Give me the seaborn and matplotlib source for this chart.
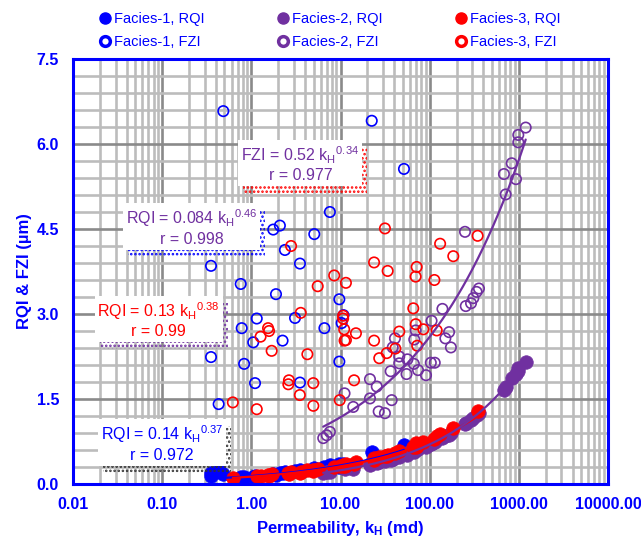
import numpy as np
import pandas as pd
import matplotlib
matplotlib.use("Agg")
import matplotlib.pyplot as plt
from matplotlib.patches import Rectangle
from matplotlib.lines import Line2D
from matplotlib.ticker import MultipleLocator, LogLocator, FixedLocator, FixedFormatter, NullFormatter
import seaborn as sns

# ---------------- data ----------------
k_f1 = [0.485, 22.4, 51.5, 7.6, 2.09, 1.76, 5.08, 2.38, 3.51, 0.353, 0.76, 1.89, 9.7, 1.15,
        3.09, 10.8, 0.78, 6.6, 10.3, 1.05, 2.24, 0.353, 0.83, 9.7, 1.10, 3.51, 0.43]
fzi_f1 = [6.58, 6.41, 5.56, 4.80, 4.56, 4.49, 4.41, 4.13, 3.89, 3.85, 3.53, 3.35, 3.26, 2.92,
          2.93, 2.98, 2.75, 2.75, 2.84, 2.50, 2.53, 2.24, 2.12, 2.16, 1.78, 1.79, 1.41]
rqi_f1 = [0.18, 0.56, 0.69, 0.33, 0.20, 0.18, 0.29, 0.22, 0.25, 0.15, 0.12, 0.16, 0.35, 0.13,
          0.23, 0.36, 0.10, 0.30, 0.33, 0.12, 0.19, 0.20, 0.13, 0.30, 0.15, 0.21, 0.24]

k_f2 = [6.4, 7.0, 7.6, 11.1, 13.9, 21.4, 21.4, 25.5, 26.8, 31.5, 36.5, 37.5, 38.5, 40.8, 45.6,
        45.6, 55, 56.3, 66.5, 67.2, 69.7, 74, 91, 103, 105, 114, 139, 150, 165, 173, 249, 254,
        291, 309, 336, 357, 681, 712, 832, 929, 986, 986, 1194]
fzi_f2 = [0.81, 0.86, 0.92, 1.60, 1.36, 1.85, 1.51, 1.72, 1.28, 1.25, 1.99, 1.48, 2.41, 2.57, 2.25,
          2.13, 1.94, 2.20, 2.12, 2.55, 2.71, 2.01, 1.92, 2.14, 2.88, 2.14, 3.09, 2.57, 2.68, 2.41,
          4.45, 3.14, 3.19, 3.28, 3.39, 3.45, 5.47, 5.11, 5.66, 5.38, 6.03, 6.16, 6.29]
rqi_f2 = [0.20, 0.22, 0.21, 0.26, 0.27, 0.34, 0.36, 0.37, 0.39, 0.41, 0.43, 0.45, 0.44, 0.47, 0.48,
          0.50, 0.52, 0.54, 0.57, 0.59, 0.60, 0.61, 0.66, 0.71, 0.73, 0.74, 0.82, 0.84, 0.87, 0.90,
          1.06, 1.08, 1.13, 1.17, 1.22, 1.25, 1.66, 1.72, 1.87, 1.95, 1.99, 2.04, 2.16]

k_f3 = [0.62, 1.15, 1.27, 1.54, 1.58, 1.69, 2.64, 2.60, 2.79, 3.5, 3.58, 4.25, 4.95, 4.96, 5.55,
        8.5, 9.8, 10.7, 10.7, 11.0, 11.1, 11.5, 11.5, 14.2, 14.9, 23.8, 23.8, 27.2, 31.5, 33.0,
        33.8, 41.2, 45.6, 65.5, 69.6, 69.8, 71.5, 72.5, 84.9, 113, 120, 131, 184, 345]
fzi_f3 = [1.44, 1.32, 2.60, 2.75, 2.70, 2.35, 1.83, 1.76, 4.20, 1.57, 3.02, 2.29, 1.78, 1.38, 3.49,
          3.68, 1.48, 2.97, 2.92, 2.73, 2.53, 3.55, 2.54, 1.83, 2.66, 3.91, 2.53, 2.22, 4.51, 2.31,
          3.76, 2.39, 2.69, 3.10, 3.66, 2.82, 3.83, 2.44, 2.73, 3.60, 2.71, 4.24, 4.02, 4.38]
rqi_f3 = [0.11, 0.14, 0.15, 0.16, 0.14, 0.17, 0.18, 0.19, 0.21, 0.20, 0.22, 0.24, 0.23, 0.25, 0.26,
          0.30, 0.31, 0.33, 0.31, 0.34, 0.32, 0.35, 0.33, 0.36, 0.38, 0.46, 0.43, 0.47, 0.50, 0.49,
          0.52, 0.55, 0.58, 0.66, 0.72, 0.66, 0.68, 0.67, 0.74, 0.80, 0.84, 0.88, 0.98, 1.28]

# power-law trend lines (coefficient, exponent)
fit_f1_rqi = (0.14, 0.37)
fit_f2_rqi = (0.084, 0.46)
fit_f3_rqi = (0.13, 0.38)
fit_f2_fzi = (0.535, 0.343)

x_tick_vals = [0.01, 0.1, 1, 10, 100, 1000, 10000]
x_tick_labels = ["0.01", "0.10", "1.00", "10.00", "100.00", "1000.00", "10000.00"]
y_tick_vals = [0.0, 1.5, 3.0, 4.5, 6.0, 7.5]
y_tick_labels = ["0.0", "1.5", "3.0", "4.5", "6.0", "7.5"]

legend_labels = ["Facies-1, RQI", "Facies-1, FZI", "Facies-2, RQI",
                 "Facies-2, FZI", "Facies-3, RQI", "Facies-3, FZI"]

eq_texts = ["FZI = 0.52 k$_\\mathregular{H}$$^\\mathregular{0.34}$\nr = 0.977",
            "RQI = 0.084 k$_\\mathregular{H}$$^\\mathregular{0.46}$\nr = 0.998",
            "RQI = 0.13 k$_\\mathregular{H}$$^\\mathregular{0.38}$\nr = 0.99",
            "RQI = 0.14 k$_\\mathregular{H}$$^\\mathregular{0.37}$\nr = 0.972"]

# ---------------- style ----------------
sns.set_style("white")
plt.rcParams["font.family"] = ["Liberation Sans", "DejaVu Sans"]
plt.rcParams["mathtext.default"] = "regular"
plt.rcParams["hatch.linewidth"] = 1.2

BLUE = "#0000FF"
PURPLE = "#7030A0"
RED = "#FF0000"

fig = plt.figure(figsize=(6.41, 5.45), dpi=100)
ax = fig.add_axes([73 / 641, 61 / 545, 535 / 641, 425 / 545])

df1 = pd.DataFrame({"k": k_f1, "fzi": fzi_f1, "rqi": rqi_f1})
df2 = pd.DataFrame({"k": k_f2, "fzi": fzi_f2, "rqi": rqi_f2})
df3 = pd.DataFrame({"k": k_f3, "fzi": fzi_f3, "rqi": rqi_f3})

S_FILL = 95
S_OPEN = 56
for df, col in [(df1, BLUE), (df2, PURPLE), (df3, RED)]:
    sns.scatterplot(data=df, x="k", y="rqi", ax=ax, color=col, s=S_FILL,
                    edgecolor=col, linewidth=0.5, marker="o", zorder=3, legend=False)
    sns.scatterplot(data=df, x="k", y="fzi", ax=ax, facecolor="none", s=S_OPEN,
                    edgecolor=col, linewidth=1.2, marker="o", zorder=3, legend=False)

# trend lines
for df, fit, col in [(df1, fit_f1_rqi, BLUE), (df3, fit_f3_rqi, RED),
                     (df2, fit_f2_rqi, PURPLE), (df2, fit_f2_fzi, PURPLE)]:
    kk = np.geomspace(min(df["k"]), max(df["k"]), 200)
    line_df = pd.DataFrame({"k": kk, "v": fit[0] * kk ** fit[1]})
    sns.lineplot(data=line_df, x="k", y="v", ax=ax, color=col, linewidth=1.6,
                 zorder=4, legend=False)

ax.set_xscale("log")
ax.set_xlim(0.01, 10000)
ax.set_ylim(0, 7.5)

ax.xaxis.set_major_locator(FixedLocator(x_tick_vals))
ax.xaxis.set_major_formatter(FixedFormatter(x_tick_labels))
ax.xaxis.set_minor_locator(LogLocator(base=10, subs=np.arange(2, 10)))
ax.xaxis.set_minor_formatter(NullFormatter())
ax.yaxis.set_major_locator(FixedLocator(y_tick_vals))
ax.yaxis.set_major_formatter(FixedFormatter(y_tick_labels))
ax.yaxis.set_minor_locator(MultipleLocator(0.3))

ax.set_axisbelow(True)
ax.grid(which="major", color="#8a8a8a", linewidth=1.9)
ax.grid(which="minor", color="#bcbcbc", linewidth=1.9)

for side in ["left", "bottom", "top", "right"]:
    ax.spines[side].set_color(BLUE)
    ax.spines[side].set_linewidth(2.2)
    ax.spines[side].set_zorder(5)

ax.tick_params(axis="both", which="major", colors=BLUE, labelcolor=BLUE,
               labelsize=11.5, width=1.5, length=5)
ax.tick_params(axis="x", which="major", direction="inout", length=9, pad=5)
ax.tick_params(axis="y", which="major", direction="out", length=6, pad=4)
ax.tick_params(axis="x", which="minor", direction="in", length=4, width=1.5, colors=BLUE)
ax.tick_params(axis="y", which="minor", direction="in", length=3, width=1.5, colors=BLUE)
for lab in ax.get_xticklabels() + ax.get_yticklabels():
    lab.set_fontweight("bold")

ax.set_xlabel("Permeability, k$_\\mathregular{H}$ (md)", color=BLUE, fontsize=12,
              fontweight="bold", labelpad=5)
ax.set_ylabel("RQI & FZI (\u00b5m)", color=BLUE, fontsize=12, fontweight="bold", labelpad=3)

# equation boxes
box_pos = [(0.425, 0.753), (0.222, 0.604), (0.160, 0.386), (0.166, 0.096)]
text_cols = [PURPLE, PURPLE, RED, BLUE]
shadow_cols = [RED, BLUE, PURPLE, "#333333"]
eq_artists = []
for txt, (fx, fy), tc in zip(eq_texts, box_pos, text_cols):
    t = ax.text(fx, fy, txt, transform=ax.transAxes, ha="center", va="center",
                multialignment="center", fontsize=11.5, color=tc, zorder=7,
                bbox=dict(boxstyle="square,pad=0.18", facecolor="white", edgecolor="none"))
    eq_artists.append(t)

# dotted drop-shadows behind the boxes (pixel offset right / down)
fig.canvas.draw()
renderer = fig.canvas.get_renderer()
for t, sc in zip(eq_artists, shadow_cols):
    bb = t.get_bbox_patch().get_window_extent(renderer)
    shadow = Rectangle((bb.x0 + 5, bb.y0 - 7), bb.width, bb.height, transform=None,
                       facecolor="none", edgecolor=sc, hatch="....", linewidth=0,
                       zorder=6.5)
    ax.add_artist(shadow)

# legend
handles = [
    Line2D([], [], marker="o", linestyle="none", color=BLUE, markersize=8),
    Line2D([], [], marker="o", linestyle="none", markerfacecolor="white", markeredgecolor=BLUE,
           markeredgewidth=2.5, markersize=7),
    Line2D([], [], marker="o", linestyle="none", color=PURPLE, markersize=8),
    Line2D([], [], marker="o", linestyle="none", markerfacecolor="white", markeredgecolor=PURPLE,
           markeredgewidth=2.5, markersize=7),
    Line2D([], [], marker="o", linestyle="none", color=RED, markersize=8),
    Line2D([], [], marker="o", linestyle="none", markerfacecolor="white", markeredgecolor=RED,
           markeredgewidth=2.5, markersize=7),
]
leg = fig.legend(handles, legend_labels, ncol=3, loc="upper left",
                 bbox_to_anchor=(99 / 641, 1 - 12 / 545), frameon=False, fontsize=10.5,
                 handlelength=0.8, handletextpad=0.2, columnspacing=5.0, labelspacing=0.6,
                 borderaxespad=0, borderpad=0)
for t in leg.get_texts():
    t.set_color(BLUE)

fig.savefig("out.png", dpi=100)
